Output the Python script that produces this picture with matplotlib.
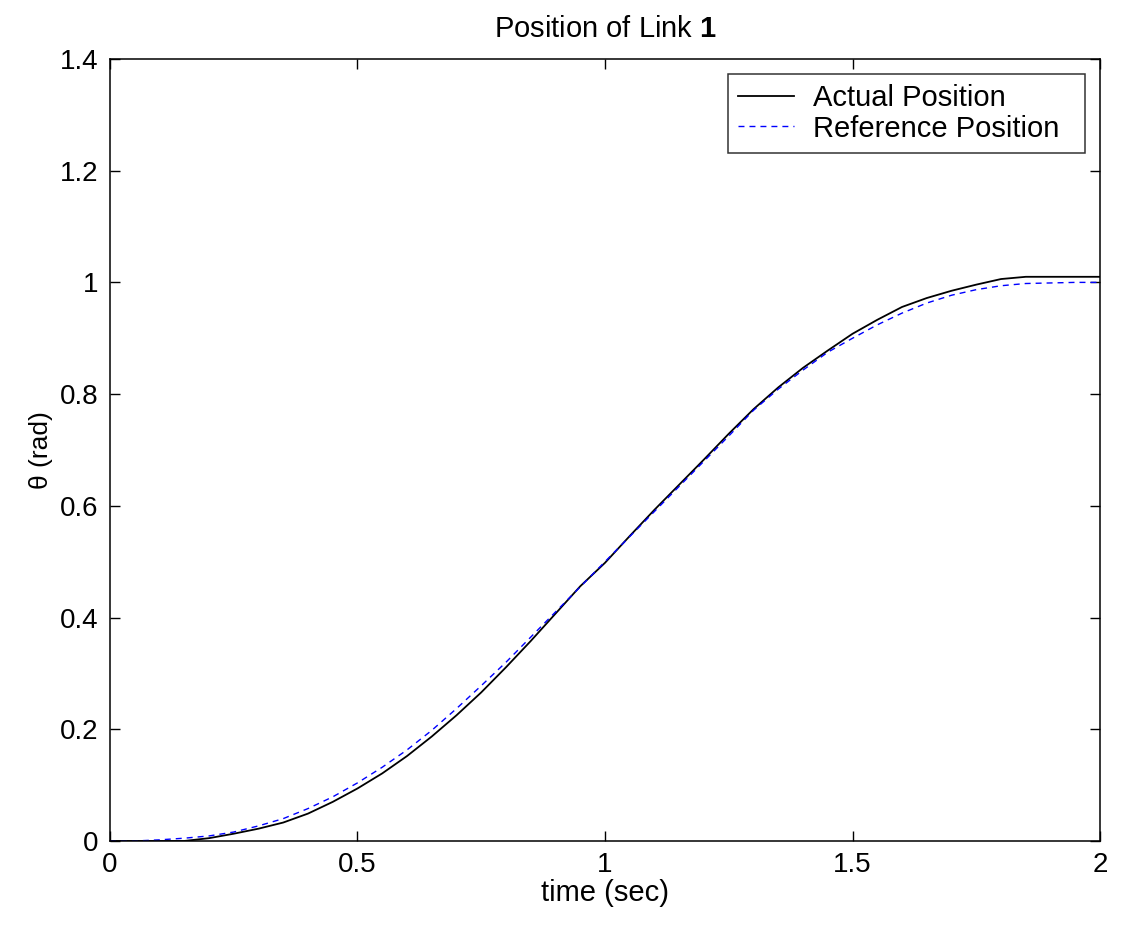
import matplotlib
matplotlib.use("Agg")
import matplotlib.pyplot as plt

plt.rcParams['font.family'] = ['Liberation Sans', 'DejaVu Sans']
plt.rcParams['mathtext.fontset'] = 'custom'
plt.rcParams['mathtext.rm'] = 'Liberation Sans'
plt.rcParams['mathtext.bf'] = 'Liberation Sans:bold'

# time samples (sec)
t = [0.00, 0.05, 0.10, 0.15, 0.20, 0.25, 0.30, 0.35, 0.40, 0.45,
     0.50, 0.55, 0.60, 0.65, 0.70, 0.75, 0.80, 0.85, 0.90, 0.95,
     1.00, 1.05, 1.10, 1.15, 1.20, 1.25, 1.30, 1.35, 1.40, 1.45,
     1.50, 1.55, 1.60, 1.65, 1.70, 1.75, 1.80, 1.85, 1.90, 1.95, 2.00]

# actual position (rad)
actual = [0.000, 0.000, 0.000, 0.000, 0.005, 0.013, 0.022, 0.033, 0.049, 0.070,
          0.094, 0.121, 0.152, 0.187, 0.225, 0.266, 0.311, 0.358, 0.407, 0.456,
          0.498, 0.546, 0.593, 0.638, 0.683, 0.729, 0.773, 0.812, 0.847, 0.878,
          0.908, 0.933, 0.956, 0.972, 0.985, 0.996, 1.006, 1.010, 1.010, 1.010, 1.010]

# reference position (rad)
reference = [0.000, 0.000, 0.002, 0.005, 0.009, 0.016, 0.027, 0.040, 0.058, 0.079,
             0.104, 0.132, 0.163, 0.198, 0.237, 0.278, 0.320, 0.365, 0.410, 0.455,
             0.500, 0.545, 0.590, 0.635, 0.680, 0.725, 0.771, 0.809, 0.843, 0.875,
             0.900, 0.924, 0.945, 0.963, 0.977, 0.987, 0.994, 0.998, 0.999, 1.000, 1.000]

xticks = [0, 0.5, 1, 1.5, 2]
xticklabels = ['0', '0.5', '1', '1.5', '2']
yticks = [0, 0.2, 0.4, 0.6, 0.8, 1.0, 1.2, 1.4]
yticklabels = ['0', '0.2', '0.4', '0.6', '0.8', '1', '1.2', '1.4']

fig = plt.figure(figsize=(11.21, 9.27), dpi=100)
ax = fig.add_axes([0.0981, 0.0928, 0.8832, 0.8436])

ax.plot(t, actual, color='black', linewidth=1.3, label='Actual Position  ')
ax.plot(t, reference, color='blue', linewidth=1.0, linestyle=(0, (4.3, 3.6)),
        label='Reference Position  ')

ax.set_xlim(0, 2)
ax.set_ylim(0, 1.4)
ax.set_xticks(xticks)
ax.set_xticklabels(xticklabels)
ax.set_yticks(yticks)
ax.set_yticklabels(yticklabels)
ax.tick_params(direction='in', length=7, width=1, top=True, right=True,
               labelsize=20, pad=8)
for sp in ax.spines.values():
    sp.set_linewidth(1.1)

ax.set_xlabel('time (sec)', fontsize=21, labelpad=1)
ax.set_ylabel('\u03b8 (rad)', fontsize=19, labelpad=5)
ax.set_title(r'Position of Link $\mathbf{1}$', fontsize=21, pad=16)

leg = ax.legend(loc='upper right', fontsize=21, frameon=True, fancybox=False,
                edgecolor='black', handlelength=1.9, borderaxespad=0.5,
                labelspacing=0.1, borderpad=0.35, handletextpad=0.65)
leg.get_frame().set_linewidth(1.1)

fig.savefig('out.png', dpi=100)
